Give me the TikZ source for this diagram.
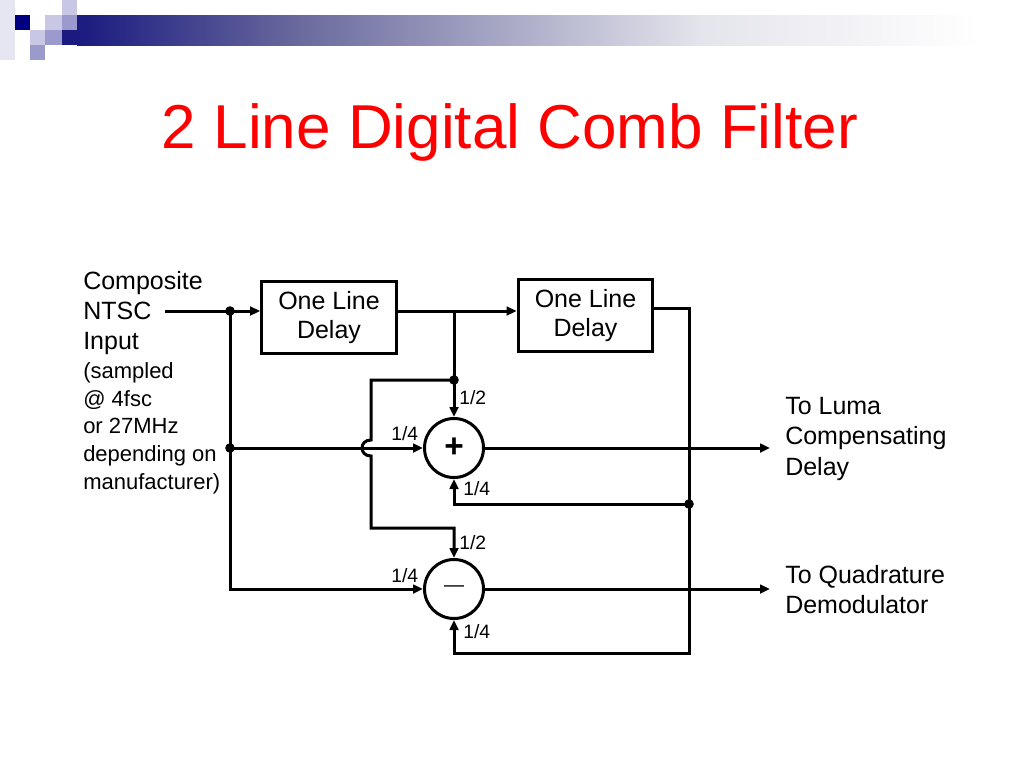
\documentclass[tikz,border=0pt]{standalone}
\usepackage{fontspec}
\setmainfont{Liberation Sans}
\usetikzlibrary{arrows.meta,calc}
\definecolor{navy}{HTML}{000080}
\definecolor{lavlight}{HTML}{C8C8E4}
\definecolor{lavmid}{HTML}{9A9ACC}
\definecolor{lavstrip}{HTML}{E6E6F2}
\definecolor{barA}{HTML}{1A1A80}
\definecolor{barB}{HTML}{6A6A9E}
\definecolor{barC}{HTML}{E4E4EC}
\definecolor{titlered}{HTML}{FF0000}
\begin{document}
\begin{tikzpicture}[x=0.75pt,y=-0.75pt,
  wire/.style={line width=2.25pt, line join=miter},
  arr/.style={wire,-{Triangle[length=7.5pt,width=6.5pt]}},
  dot/.style={fill=black},
  box/.style={draw, line width=2.25pt, minimum width=101pt, minimum height=54pt,
    inner sep=0pt, align=center, font=\fontsize{18.75}{21.75}\selectfont},
  sum/.style={draw, circle, line width=2.25pt, minimum size=44.25pt, inner sep=0pt},
  big/.style={anchor=base west, inner sep=0pt, font=\fontsize{18.75}{22}\selectfont},
  small/.style={anchor=base west, inner sep=0pt, font=\fontsize{16.5}{20}\selectfont},
  frac/.style={anchor=base west, inner sep=0pt, font=\fontsize{14.5}{17}\selectfont}]
\useasboundingbox (0,0) rectangle (1024,768);
\fill[white] (0,0) rectangle (1024,768);
% header decoration
\fill[lavstrip] (0,0) rectangle (15,60);
\fill[lavlight] (62,0) rectangle (77,15);
\fill[navy] (15,15) rectangle (30,30);
\fill[lavlight] (45,15) rectangle (62,30);
\fill[lavmid] (62,15) rectangle (77,30);
\fill[lavlight] (30,30) rectangle (45,45);
\fill[lavmid] (45,30) rectangle (62,45);
\fill[lavmid] (30,45) rectangle (45,60);
\fill[barA] (62,30) rectangle (77.5,45);
\shade[left color=barA, right color=barB] (77,15) rectangle (300.5,45);
\shade[left color=barB, right color=barC] (300,15) rectangle (700.5,45);
\shade[left color=barC, right color=white] (700,15) rectangle (980,45);
% title
\node[anchor=base, inner sep=0pt, text=titlered, font=\fontsize{46.5}{50}\selectfont] (title) at (510,148) {2 Line Digital Comb Filter};
% input text
\node[big] (t1) at (83,289) {Composite};
\node[big] (t2) at (83,319) {NTSC};
\node[big] (t3) at (83,349) {Input};
\node[small] (t4) at (83,378) {(sampled};
\node[small] (t5) at (83,406) {@ 4fsc};
\node[small] (t6) at (83,433) {or 27MHz};
\node[small] (t7) at (83,461) {depending on};
\node[small] (t8) at (83,489) {manufacturer)};
% output text
\node[big] (o1) at (785,414) {To Luma};
\node[big] (o2) at (785,444.5) {Compensating};
\node[big] (o3) at (785,475) {Delay};
\node[big] (o4) at (785,583) {To Quadrature};
\node[big] (o5) at (785,613) {Demodulator};
% blocks
\node[box] (d1) at (329,317.5) {One Line\\Delay};
\node[box] (d2) at (585.5,315.5) {One Line\\Delay};
\node[sum, font=\bfseries\fontsize{25}{25}\selectfont] (plus) at (454,448) {+};
\node[sum, font=\fontsize{15}{15}\selectfont] (minus) at (454,589) {\raisebox{-1.5pt}{—}};
% coordinates
\coordinate (inS) at (165,311);
\coordinate (j1) at (230,311);
\coordinate (j2) at (230,448);
\coordinate (j3) at (454,311);
\coordinate (j4) at (454,380);
\coordinate (j5) at (689,504);
\coordinate (c1) at (689,308);
\coordinate (c2) at (689,653);
\coordinate (c3) at (454,653);
\coordinate (h1) at (371,380);
\coordinate (h2) at (371,440);
\coordinate (h3) at (371,456);
\coordinate (h4) at (371,528);
\coordinate (h5) at (454,528);
\coordinate (f1) at (454,504);
\coordinate (out1) at (770,448);
\coordinate (out2) at (770,589);
% connectors
\draw[arr] (inS) -- (inS -| d1.west);
\draw[arr] (j1) -- (j1 |- minus.west) -- (minus.west);
\draw[arr] (j2) -- (plus.west);
\draw[arr] (d1.east |- inS) -- (d2.west |- inS);
\draw[arr] (j3) -- (plus.north);
\draw[arr] (j4) -- (h1) -- (h2) .. controls (359,440) and (359,456) .. (h3) -- (h4) -- (h5) -- (minus.north);
\draw[arr] (d2.east |- c1) -- (c1) -- (c2) -- (c3) -- (minus.south);
\draw[arr] (j5) -- (f1) -- (plus.south);
\draw[arr] (plus.east) -- (out1);
\draw[arr] (minus.east) -- (out2);
% junction dots
\fill[dot] (j1) circle[radius=3.6pt];
\fill[dot] (j2) circle[radius=3.6pt];
\fill[dot] (j4) circle[radius=3.6pt];
\fill[dot] (j5) circle[radius=3.6pt];
% fractions
\node[frac] (fa) at (459,404) {1/2};
\node[frac] (fb) at (391,440) {1/4};
\node[frac] (fc) at (463,495) {1/4};
\node[frac] (fd) at (459,549) {1/2};
\node[frac] (fe) at (391,582) {1/4};
\node[frac] (ff) at (463,638) {1/4};
\end{tikzpicture}
\end{document}
